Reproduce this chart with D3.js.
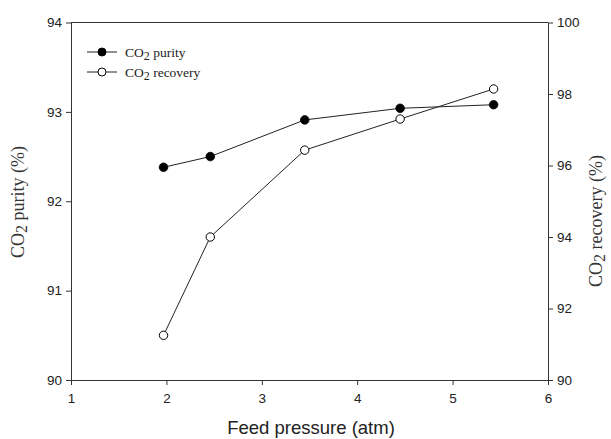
<!DOCTYPE html>
<html>
<head>
<meta charset="utf-8">
<script src="https://cdn.jsdelivr.net/npm/d3@7"></script>
<style>
  html, body { margin: 0; padding: 0; background: #fff; }
  svg { display: block; }
  .tick text { font-family: Arial, "Liberation Sans", sans-serif; font-size: 13.5px; fill: #222; }
  .domain, .tick line { stroke: #333; stroke-width: 1; }
</style>
</head>
<body>
<svg id="chart" width="611" height="439"></svg>
<script>
// Feed pressure (atm)
const pressure = [1.97, 2.46, 3.45, 4.45, 5.43];
// CO2 purity (%) – left axis
const purity = [92.38, 92.50, 92.91, 93.04, 93.08];
// CO2 recovery (%) – right axis
const recovery = [91.25, 94.0, 96.43, 97.30, 98.14];

const xTicks = [1, 2, 3, 4, 5, 6];
const purityTicks = [90, 91, 92, 93, 94];
const recoveryTicks = [90, 92, 94, 96, 98, 100];

const svg = d3.select("#chart");
const plotLeft = 71, plotRight = 548, plotTop = 22.5, plotBottom = 380;

const x = d3.scaleLinear().domain([1, 6]).range([plotLeft, plotRight]);
const yP = d3.scaleLinear().domain([90, 94]).range([plotBottom, plotTop]);
const yR = d3.scaleLinear().domain([90, 100]).range([plotBottom, plotTop]);

// frame top edge
svg.append("line")
  .attr("x1", plotLeft).attr("x2", plotRight).attr("y1", plotTop).attr("y2", plotTop)
  .attr("stroke", "#333").attr("stroke-width", 1);

svg.append("g")
  .attr("transform", `translate(0,${plotBottom})`)
  .call(d3.axisBottom(x).tickValues(xTicks).tickFormat(d3.format("d")).tickSize(5).tickSizeOuter(0).tickPadding(8));

svg.append("g")
  .attr("transform", `translate(${plotLeft},0)`)
  .call(d3.axisLeft(yP).tickValues(purityTicks).tickFormat(d3.format("d")).tickSize(5).tickSizeOuter(0).tickPadding(4));

svg.append("g")
  .attr("transform", `translate(${plotRight},0)`)
  .call(d3.axisRight(yR).tickValues(recoveryTicks).tickFormat(d3.format("d")).tickSize(5).tickSizeOuter(0).tickPadding(4));

// series lines
const purityLine = d3.line().x((d, i) => x(pressure[i])).y(d => yP(d));
const recoveryLine = d3.line().x((d, i) => x(pressure[i])).y(d => yR(d));

svg.append("path").datum(purity)
  .attr("d", purityLine).attr("fill", "none").attr("stroke", "#222").attr("stroke-width", 1);
svg.append("path").datum(recovery)
  .attr("d", recoveryLine).attr("fill", "none").attr("stroke", "#222").attr("stroke-width", 1);

svg.append("g").selectAll("circle").data(purity).join("circle")
  .attr("cx", (d, i) => x(pressure[i])).attr("cy", d => yP(d))
  .attr("r", 4.3).attr("fill", "#000").attr("stroke", "#000").attr("stroke-width", 0.8);

svg.append("g").selectAll("circle").data(recovery).join("circle")
  .attr("cx", (d, i) => x(pressure[i])).attr("cy", d => yR(d))
  .attr("r", 4.2).attr("fill", "#fff").attr("stroke", "#000").attr("stroke-width", 1);

// legend
const serif = "'Liberation Serif', 'Times New Roman', serif";
const legend = [
  { label: "purity", filled: true, y: 52 },
  { label: "recovery", filled: false, y: 72 }
];
const lg = svg.append("g");
legend.forEach(item => {
  lg.append("line").attr("x1", 87).attr("x2", 117).attr("y1", item.y).attr("y2", item.y)
    .attr("stroke", "#222").attr("stroke-width", 1);
  lg.append("circle").attr("cx", 102).attr("cy", item.y).attr("r", 4)
    .attr("fill", item.filled ? "#000" : "#fff").attr("stroke", "#000").attr("stroke-width", 1);
  const t = lg.append("text").attr("x", 125).attr("y", item.y + 4.5)
    .attr("font-family", serif).attr("font-size", 13.5).attr("fill", "#222");
  t.append("tspan").text("CO");
  t.append("tspan").attr("font-size", 12).attr("dy", 3).text("2");
  t.append("tspan").attr("dy", -3).text(" " + item.label);
});

// axis titles
function co2Title(g, rest) {
  const t = g.append("text").attr("text-anchor", "middle")
    .attr("font-family", serif).attr("font-size", 18).attr("fill", "#333");
  t.append("tspan").text("CO");
  t.append("tspan").attr("font-size", 16).attr("dy", 3).text("2");
  t.append("tspan").attr("dy", -3).text(" " + rest);
  return t;
}
co2Title(svg.append("g").attr("transform", "translate(24,202) rotate(-90)"), "purity (%)");
co2Title(svg.append("g").attr("transform", "translate(602,221) rotate(-90)"), "recovery (%)");

svg.append("text")
  .attr("x", 311).attr("y", 434).attr("text-anchor", "middle")
  .attr("font-family", "Arial, 'Liberation Sans', sans-serif").attr("font-size", 18.5).attr("fill", "#222")
  .text("Feed pressure (atm)");
</script>
</body>
</html>
